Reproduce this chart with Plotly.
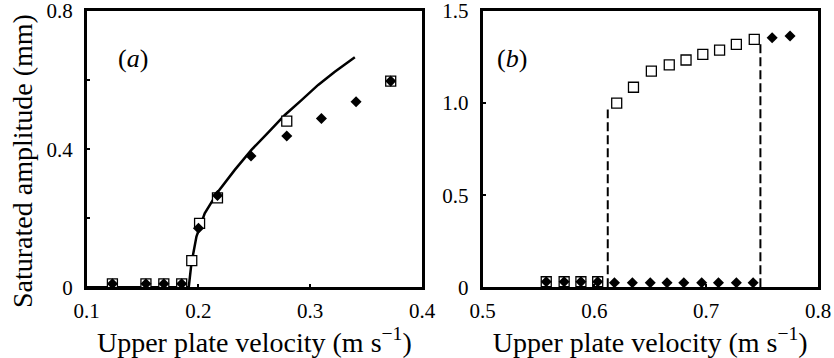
import plotly.graph_objects as go

# ---------- panel (a) data ----------
a_sq_x = [0.123, 0.153, 0.169, 0.185, 0.194, 0.201, 0.217, 0.279, 0.372]
a_sq_y = [0.01, 0.01, 0.01, 0.01, 0.077, 0.185, 0.259, 0.481, 0.597]
a_di_x = [0.123, 0.153, 0.169, 0.185, 0.200, 0.217, 0.247, 0.279, 0.310, 0.341, 0.372]
a_di_y = [0.01, 0.01, 0.01, 0.01, 0.171, 0.266, 0.380, 0.438, 0.489, 0.537, 0.597]
a_line_x = [0.100, 0.1913, 0.1937, 0.1982, 0.2056, 0.2175, 0.2325, 0.2474, 0.2623,
            0.2773, 0.2922, 0.3071, 0.3220, 0.3399]
a_line_y = [0.0, 0.0, 0.069, 0.147, 0.214, 0.277, 0.340, 0.398, 0.448,
            0.499, 0.542, 0.586, 0.624, 0.666]

# ---------- panel (b) data ----------
b_sq_x = [0.557, 0.573, 0.588, 0.603, 0.620, 0.635, 0.651, 0.667, 0.682, 0.697,
          0.712, 0.727, 0.743]
b_sq_y = [0.03, 0.03, 0.03, 0.03, 1.00, 1.086, 1.174, 1.207, 1.234, 1.265,
          1.288, 1.319, 1.346]
b_di_x = [0.557, 0.573, 0.588, 0.603, 0.618, 0.634, 0.650, 0.665, 0.680, 0.696,
          0.711, 0.727, 0.742, 0.759, 0.775]
b_di_y = [0.03, 0.03, 0.03, 0.03, 0.025, 0.025, 0.025, 0.025, 0.025, 0.025,
          0.025, 0.025, 0.025, 1.355, 1.364]
b_dash1_x = [0.612, 0.612]
b_dash1_y = [0.0, 0.965]
b_dash2_x = [0.7485, 0.7485]
b_dash2_y = [0.0, 1.335]

a_xticks = [0.1, 0.2, 0.3, 0.4]
a_xtext = ["0.1", "0.2", "0.3", "0.4"]
a_yticks = [0, 0.2, 0.4, 0.6, 0.8]
a_ytext = ["0", "", "0.4", "", "0.8"]
b_xticks = [0.5, 0.6, 0.7, 0.8]
b_xtext = ["0.5", "0.6", "0.7", "0.8"]
b_yticks = [0, 0.5, 1.0, 1.5]
b_ytext = ["0", "0.5", "1.0", "1.5"]

FONT = "Liberation Serif"
W, H = 834, 358

fig = go.Figure()

sq_marker = dict(symbol="square", size=10, color="white",
                 line=dict(color="black", width=1.3))
di_marker = dict(symbol="diamond", size=8.5, color="black",
                 line=dict(color="black", width=0))

fig.add_trace(go.Scatter(x=a_line_x, y=a_line_y, mode="lines",
                         line=dict(color="black", width=2.5),
                         xaxis="x", yaxis="y", showlegend=False))
fig.add_trace(go.Scatter(x=a_sq_x, y=a_sq_y, mode="markers", marker=sq_marker,
                         xaxis="x", yaxis="y", showlegend=False))
fig.add_trace(go.Scatter(x=a_di_x, y=a_di_y, mode="markers", marker=di_marker,
                         xaxis="x", yaxis="y", showlegend=False))

for dx, dy in [(b_dash1_x, b_dash1_y), (b_dash2_x, b_dash2_y)]:
    fig.add_trace(go.Scatter(x=dx, y=dy, mode="lines",
                             line=dict(color="black", width=2, dash="9px,4px"),
                             xaxis="x2", yaxis="y2", showlegend=False))
fig.add_trace(go.Scatter(x=b_sq_x, y=b_sq_y, mode="markers", marker=sq_marker,
                         xaxis="x2", yaxis="y2", showlegend=False))
fig.add_trace(go.Scatter(x=b_di_x, y=b_di_y, mode="markers", marker=di_marker,
                         xaxis="x2", yaxis="y2", showlegend=False))

ydom = [1 - 287.3 / H, 1 - 11 / H]
axis_common = dict(showline=True, linecolor="black", linewidth=2.5, mirror=True,
                   ticks="inside", ticklen=4, tickwidth=1.5, tickcolor="black",
                   showgrid=False, zeroline=False, automargin=False,
                   ticklabeloverflow="allow",
                   tickfont=dict(family=FONT, size=21, color="black"))
xtitle = dict(text="Upper plate velocity (m s<sup>\u22121</sup>)",
              font=dict(family=FONT, size=28, color="black"), standoff=5)

fig.update_layout(
    width=W, height=H,
    margin=dict(l=0, r=0, t=0, b=0),
    paper_bgcolor="white", plot_bgcolor="white",
    font=dict(family=FONT, color="black"),
    xaxis=dict(domain=[86.7 / W, 422 / W], range=[0.1, 0.4],
               tickvals=a_xticks, ticktext=a_xtext, title=xtitle,
               anchor="y", ticklabelstandoff=3, **axis_common),
    yaxis=dict(domain=ydom, range=[0, 0.8], tickvals=a_yticks, ticktext=a_ytext,
               anchor="x", ticklabelstandoff=7, **axis_common),
    xaxis2=dict(domain=[482.5 / W, 818 / W], range=[0.5, 0.8],
                tickvals=b_xticks, ticktext=b_xtext, title=xtitle,
                anchor="y2", ticklabelstandoff=3, **axis_common),
    yaxis2=dict(domain=ydom, range=[0, 1.5], tickvals=b_yticks, ticktext=b_ytext,
                anchor="x2", ticklabelstandoff=7, **axis_common),
    annotations=[
        dict(text="Saturated amplitude (mm)", textangle=-90,
             x=22 / W, y=1 - 161 / H, xref="paper", yref="paper",
             xanchor="center", yanchor="middle", showarrow=False,
             font=dict(family=FONT, size=28, color="black")),
        dict(text="(<i>a</i>)", x=116 / W, y=1 - 42 / H, xref="paper", yref="paper",
             showarrow=False, font=dict(family=FONT, size=26, color="black")),
        dict(text="(<i>b</i>)", x=512 / W, y=1 - 42 / H, xref="paper", yref="paper",
             showarrow=False, font=dict(family=FONT, size=26, color="black")),
    ],
)

fig.write_html("out.html")
